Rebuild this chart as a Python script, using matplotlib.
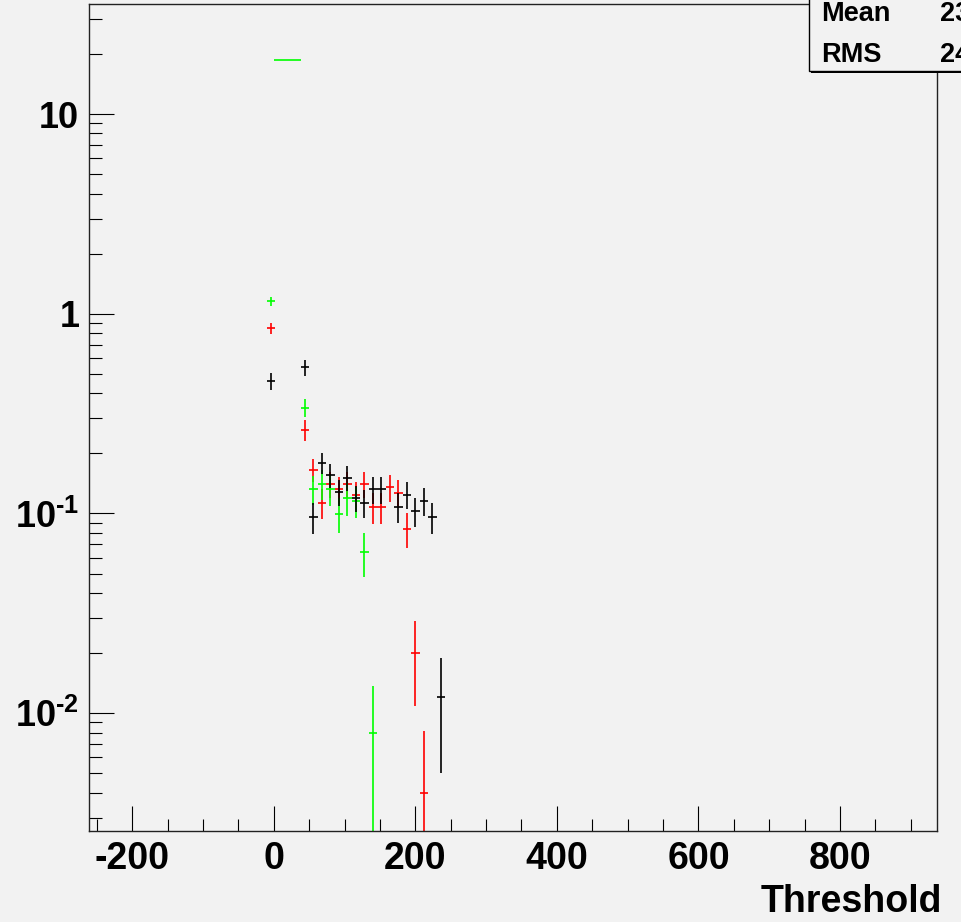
import math
import matplotlib
matplotlib.use("Agg")
from matplotlib import pyplot as plt
from matplotlib import patches
from matplotlib.ticker import MultipleLocator, LogLocator, FuncFormatter, NullFormatter

# values (bin centres, contents, errors)
black_x = [-4, 44, 56, 68, 80, 92, 104, 116, 128, 140, 152, 176, 188, 200, 212, 224, 236]
black_xerr = [6] * len(black_x)
black_y = [0.461, 0.540, 0.096, 0.180, 0.155, 0.128, 0.151, 0.120, 0.113, 0.132,
           0.132, 0.108, 0.124, 0.103, 0.1155, 0.096, 0.012]
black_err = [0.045, 0.050, 0.017, 0.022, 0.021, 0.019, 0.021, 0.018, 0.018, 0.020,
             0.020, 0.018, 0.019, 0.017, 0.018, 0.017, 0.007]

red_x = [-4, 44, 56, 68, 80, 92, 104, 116, 128, 140, 152, 164, 176, 188, 200, 212]
red_xerr = [6] * len(red_x)
red_y = [0.847, 0.262, 0.165, 0.113, 0.1406, 0.132, 0.1406, 0.124, 0.1406, 0.108,
         0.108, 0.1353, 0.127, 0.0839, 0.0199, 0.0040]
red_err = [0.055, 0.031, 0.022, 0.019, 0.021, 0.020, 0.021, 0.020, 0.021, 0.019,
           0.019, 0.021, 0.020, 0.017, 0.009, 0.0041]

green_x = [-4, 19, 44, 56, 68, 80, 92, 104, 116, 128, 140]
green_xerr = [6, 19, 6, 6, 6, 6, 6, 6, 6, 6, 6]
green_y = [1.16, 18.7, 0.339, 0.132, 0.1406, 0.132, 0.0994, 0.1196, 0.1155, 0.0639, 0.0080]
green_err = [0.06, 0.0, 0.036, 0.022, 0.024, 0.023, 0.020, 0.022, 0.021, 0.016, 0.0057]

stats_names = ["Mean", "RMS"]
stats_values = ["23", "24"]

plt.rcParams['font.family'] = ['Liberation Sans', 'DejaVu Sans']
plt.rcParams['font.weight'] = 'bold'
plt.rcParams['axes.unicode_minus'] = False
plt.rcParams['mathtext.fontset'] = 'custom'
plt.rcParams['mathtext.rm'] = 'Liberation Sans:bold'
plt.rcParams['mathtext.bf'] = 'Liberation Sans:bold'
plt.rcParams['mathtext.it'] = 'Liberation Sans:bold'

bg = '#f2f2f2'
W, H = 961, 922
fig = plt.figure(figsize=(W / 100, H / 100), dpi=100, facecolor=bg)
ax = fig.add_axes([89 / W, 1 - 831 / H, (937 - 89) / W, (831 - 4) / H])
ax.set_facecolor(bg)

ax.errorbar(red_x, red_y, xerr=red_xerr, yerr=red_err, fmt='none',
            ecolor='#ff0000', elinewidth=1.2, capsize=0)
ax.errorbar(green_x, green_y, xerr=green_xerr, yerr=green_err, fmt='none',
            ecolor='#00ff00', elinewidth=1.2, capsize=0)
ax.errorbar(black_x, black_y, xerr=black_xerr, yerr=black_err, fmt='none',
            ecolor='#000000', elinewidth=1.2, capsize=0)

ax.set_yscale('log')
ax.set_xlim(-261, 937)
ax.set_ylim(0.00257, 35.6)

ax.xaxis.set_major_locator(MultipleLocator(200))
ax.xaxis.set_minor_locator(MultipleLocator(50))
ax.yaxis.set_major_locator(LogLocator(base=10))
ax.yaxis.set_minor_locator(LogLocator(base=10, subs=range(2, 10)))
ax.yaxis.set_minor_formatter(NullFormatter())


def ylab(v, pos):
    if v >= 1:
        return '%d' % round(v)
    e = int(round(math.log10(v)))
    return r'$10^{\text{%d}}$' % e


ax.yaxis.set_major_formatter(FuncFormatter(ylab))

ax.tick_params(which='both', direction='in', top=False, right=False, width=0.8, color='k')
ax.tick_params(which='major', length=18)
ax.tick_params(which='minor', length=9)
ax.tick_params(axis='x', which='major', labelsize=27, pad=7)
ax.tick_params(axis='y', which='major', labelsize=26, pad=7)
for lab in ax.get_xticklabels() + ax.get_yticklabels():
    lab.set_fontweight('bold')

for s in ax.spines.values():
    s.set_linewidth(1.0)
    s.set_color('#222222')

fig.text(942 / W, 1 - 912 / H, "Threshold", ha='right', va='baseline',
         fontsize=27, fontweight='bold')

# stats box, cut by the right edge as in the reference
shadow = patches.Rectangle((811 / W, 1 - 73 / H), 0.3, 0.2, transform=fig.transFigure,
                           facecolor='k', edgecolor='none', zorder=10)
box = patches.Rectangle((809 / W, 1 - 71 / H), 0.3, 0.2, transform=fig.transFigure,
                        facecolor=bg, edgecolor='k', linewidth=1.0, zorder=11)
fig.patches.extend([shadow, box])
for i, (n, v) in enumerate(zip(stats_names, stats_values)):
    yb = 1 - (21 + 41 * i) / H
    fig.text(821 / W, yb, n, ha='left', va='baseline', fontsize=19.5,
             fontweight='bold', zorder=12)
    fig.text(940 / W, yb, v, ha='left', va='baseline', fontsize=19.5,
             fontweight='bold', zorder=12)

fig.savefig('out.png', dpi=100, facecolor=bg)
